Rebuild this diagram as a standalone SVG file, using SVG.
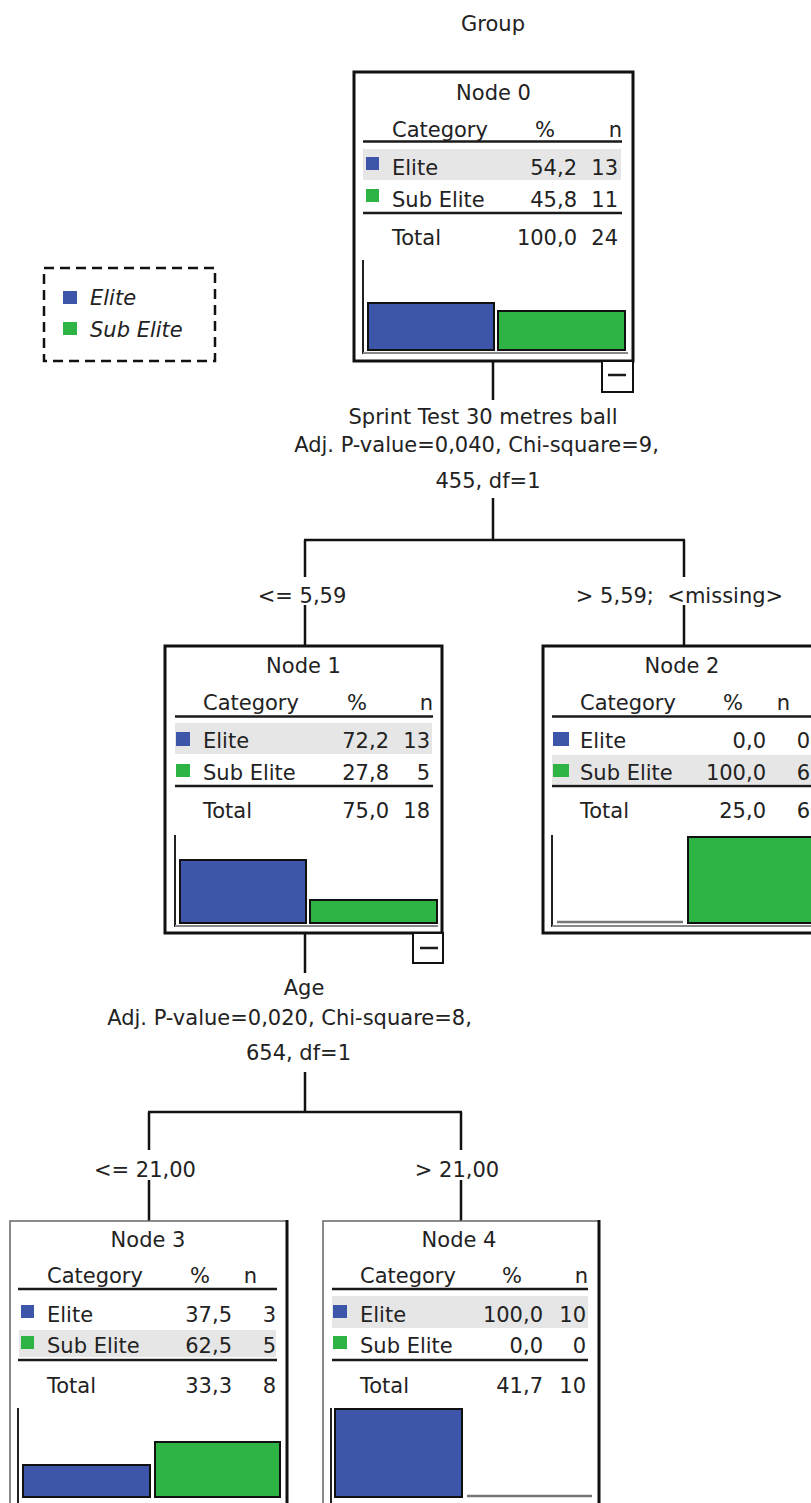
<svg xmlns="http://www.w3.org/2000/svg" width="811" height="1503" viewBox="0 0 811 1503">
<style>
.t{font-family:"DejaVu Sans","Liberation Sans",sans-serif;font-size:21px;fill:#222}
.m{text-anchor:middle}
.e{text-anchor:end}
.i{font-style:italic}
.frame{fill:#fff;stroke:#111;stroke-width:3}
.frame2{fill:#fff;stroke:#666;stroke-width:1.5}
.edge{stroke:#111;stroke-width:3}
.rule{stroke:#1a1a1a;stroke-width:2.5}
.hl{fill:#e6e6e6}
.blue{fill:#3e56aa}
.green{fill:#2eb345}
.bar{stroke:#111;stroke-width:2}
.axis{stroke:#222;stroke-width:2}
.base{stroke:#888;stroke-width:2}
.flat{stroke:#777;stroke-width:2.5}
.minus{fill:#fff;stroke:#111;stroke-width:2}
.conn line{stroke:#111;stroke-width:2.5}
</style>

<text class="t m" x="493" y="31">Group</text>

<g id="legend">
<rect x="44" y="268" width="171" height="93" fill="none" stroke="#111" stroke-width="2.5" stroke-dasharray="10 6"/>
<rect class="blue" x="63" y="291" width="14" height="13"/>
<text class="t i" x="90" y="305">Elite</text>
<rect class="green" x="63" y="322" width="14" height="13"/>
<text class="t i" x="90" y="337">Sub Elite</text>
</g>

<g id="connectors" class="conn">
<line x1="493" y1="362" x2="493" y2="400"/>
<line x1="493" y1="498" x2="493" y2="540"/>
<line x1="304" y1="540" x2="685" y2="540"/>
<line x1="305" y1="540" x2="305" y2="577"/>
<line x1="305" y1="605" x2="305" y2="646"/>
<line x1="684" y1="540" x2="684" y2="577"/>
<line x1="684" y1="605" x2="684" y2="646"/>
<line x1="305" y1="933" x2="305" y2="973"/>
<line x1="305" y1="1072" x2="305" y2="1112"/>
<line x1="148" y1="1112" x2="462" y2="1112"/>
<line x1="149" y1="1112" x2="149" y2="1150"/>
<line x1="149" y1="1180" x2="149" y2="1221"/>
<line x1="461" y1="1112" x2="461" y2="1150"/>
<line x1="461" y1="1180" x2="461" y2="1221"/>
</g>

<g id="labels">
<text class="t m" x="483" y="424">Sprint Test 30 metres ball</text>
<text class="t m" x="476.5" y="452">Adj. P-value=0,040, Chi-square=9,</text>
<text class="t m" x="488" y="488">455, df=1</text>
<text class="t m" x="302" y="603">&lt;= 5,59</text>
<text class="t m" x="679.5" y="603" style="white-space:pre">&gt; 5,59;  &lt;missing&gt;</text>
<text class="t m" x="304" y="995">Age</text>
<text class="t m" x="289.5" y="1025">Adj. P-value=0,020, Chi-square=8,</text>
<text class="t m" x="298.5" y="1060">654, df=1</text>
<text class="t m" x="145" y="1177">&lt;= 21,00</text>
<text class="t m" x="457" y="1177">&gt; 21,00</text>
</g>

<g id="node0" transform="translate(354,72)">
<rect class="frame" x="0" y="0" width="279" height="289"/>
<text class="t m" x="139.5" y="28">Node 0</text>
<text class="t" x="38" y="65">Category</text>
<text class="t e" x="201" y="65">%</text>
<text class="t e" x="268" y="65">n</text>
<line class="rule" x1="9" y1="69.5" x2="268" y2="69.5"/>
<rect class="hl" x="9" y="77" width="258" height="31"/>
<rect class="blue" x="12" y="85" width="13" height="13"/>
<text class="t" x="38" y="103">Elite</text>
<text class="t e" x="223" y="103">54,2</text>
<text class="t e" x="264" y="103">13</text>
<rect class="green" x="12" y="117" width="13" height="13"/>
<text class="t" x="38" y="135">Sub Elite</text>
<text class="t e" x="223" y="135">45,8</text>
<text class="t e" x="264" y="135">11</text>
<line class="rule" x1="9" y1="141" x2="268" y2="141"/>
<text class="t" x="38" y="173">Total</text>
<text class="t e" x="223" y="173">100,0</text>
<text class="t e" x="264" y="173">24</text>
<line class="axis" x1="9" y1="188" x2="9" y2="282"/>
<line class="base" x1="9" y1="281" x2="274" y2="281"/>
<rect class="blue bar" x="14" y="231" width="126" height="47"/>
<rect class="green bar" x="144" y="239" width="127" height="39"/>
<rect class="minus" x="248" y="289" width="31" height="31"/>
<line class="rule" x1="254" y1="303" x2="272" y2="303"/>
</g>

<g id="node1" transform="translate(165,646)">
<rect class="frame" x="0" y="0" width="277" height="287"/>
<text class="t m" x="138.5" y="27">Node 1</text>
<text class="t" x="38" y="64">Category</text>
<text class="t e" x="202" y="64">%</text>
<text class="t e" x="268" y="64">n</text>
<line class="rule" x1="10" y1="70.5" x2="268" y2="70.5"/>
<rect class="hl" x="10" y="77" width="257" height="31"/>
<rect class="blue" x="11" y="86" width="14" height="14"/>
<text class="t" x="38" y="102">Elite</text>
<text class="t e" x="224" y="102">72,2</text>
<text class="t e" x="265" y="102">13</text>
<rect class="green" x="11" y="118" width="14" height="13"/>
<text class="t" x="38" y="134">Sub Elite</text>
<text class="t e" x="224" y="134">27,8</text>
<text class="t e" x="265" y="134">5</text>
<line class="rule" x1="10" y1="140" x2="268" y2="140"/>
<text class="t" x="38" y="172">Total</text>
<text class="t e" x="224" y="172">75,0</text>
<text class="t e" x="265" y="172">18</text>
<line class="axis" x1="10" y1="189" x2="10" y2="281"/>
<line class="base" x1="10" y1="280" x2="273" y2="280"/>
<rect class="blue bar" x="15" y="214" width="126" height="63"/>
<rect class="green bar" x="145" y="254" width="127" height="23"/>
<rect class="minus" x="248" y="287" width="30" height="30"/>
<line class="rule" x1="255" y1="302" x2="273" y2="302"/>
</g>

<g id="node2" transform="translate(543,646)">
<rect class="frame" x="0" y="0" width="278" height="287"/>
<text class="t m" x="139" y="27">Node 2</text>
<text class="t" x="37" y="64">Category</text>
<text class="t e" x="200" y="64">%</text>
<text class="t e" x="247" y="64">n</text>
<line class="rule" x1="9" y1="70.5" x2="278" y2="70.5"/>
<rect class="blue" x="10" y="86" width="16" height="14"/>
<text class="t" x="37" y="102">Elite</text>
<text class="t e" x="223" y="102">0,0</text>
<text class="t e" x="267" y="102">0</text>
<rect class="hl" x="9" y="109" width="269" height="29"/>
<rect class="green" x="10" y="118" width="16" height="13"/>
<text class="t" x="37" y="134">Sub Elite</text>
<text class="t e" x="223" y="134">100,0</text>
<text class="t e" x="267" y="134">6</text>
<line class="rule" x1="9" y1="140" x2="278" y2="140"/>
<text class="t" x="37" y="172">Total</text>
<text class="t e" x="223" y="172">25,0</text>
<text class="t e" x="267" y="172">6</text>
<line class="axis" x1="9" y1="189" x2="9" y2="281"/>
<line class="base" x1="9" y1="280" x2="278" y2="280"/>
<line class="flat" x1="14" y1="276" x2="140" y2="276"/>
<rect class="green bar" x="145" y="191" width="132" height="86"/>
</g>

<g id="node3" transform="translate(10,1220)">
<rect class="frame2" x="0" y="1" width="277" height="300"/>
<line class="edge" x1="277" y1="0" x2="277" y2="290"/>
<text class="t m" x="138" y="27">Node 3</text>
<text class="t" x="37" y="63">Category</text>
<text class="t e" x="200" y="63">%</text>
<text class="t e" x="247" y="63">n</text>
<line class="rule" x1="8" y1="69" x2="267" y2="69"/>
<rect class="blue" x="11" y="85" width="13" height="13"/>
<text class="t" x="37" y="102">Elite</text>
<text class="t e" x="222" y="102">37,5</text>
<text class="t e" x="266" y="102">3</text>
<rect class="hl" x="9" y="110" width="257" height="27"/>
<rect class="green" x="11" y="116" width="13" height="13"/>
<text class="t" x="37" y="133">Sub Elite</text>
<text class="t e" x="222" y="133">62,5</text>
<text class="t e" x="266" y="133">5</text>
<line class="rule" x1="8" y1="140" x2="267" y2="140"/>
<text class="t" x="37" y="173">Total</text>
<text class="t e" x="222" y="173">33,3</text>
<text class="t e" x="266" y="173">8</text>
<line class="axis" x1="8" y1="188" x2="8" y2="290"/>
<rect class="blue bar" x="13" y="245" width="127" height="32"/>
<rect class="green bar" x="145" y="222" width="125" height="55"/>
</g>

<g id="node4" transform="translate(323,1220)">
<rect class="frame2" x="0" y="1" width="276" height="300"/>
<line class="edge" x1="276" y1="0" x2="276" y2="290"/>
<text class="t m" x="136" y="27">Node 4</text>
<text class="t" x="37" y="63">Category</text>
<text class="t e" x="199" y="63">%</text>
<text class="t e" x="265" y="63">n</text>
<line class="rule" x1="9" y1="69" x2="265" y2="69"/>
<rect class="hl" x="9" y="76" width="256" height="32"/>
<rect class="blue" x="10" y="85" width="14" height="13"/>
<text class="t" x="37" y="102">Elite</text>
<text class="t e" x="220" y="102">100,0</text>
<text class="t e" x="263" y="102">10</text>
<rect class="green" x="10" y="116" width="14" height="13"/>
<text class="t" x="37" y="133">Sub Elite</text>
<text class="t e" x="220" y="133">0,0</text>
<text class="t e" x="263" y="133">0</text>
<line class="rule" x1="9" y1="140" x2="265" y2="140"/>
<text class="t" x="37" y="173">Total</text>
<text class="t e" x="220" y="173">41,7</text>
<text class="t e" x="263" y="173">10</text>
<line class="axis" x1="8" y1="188" x2="8" y2="290"/>
<rect class="blue bar" x="12" y="189" width="127" height="88"/>
<line class="flat" x1="144" y1="276" x2="269" y2="276"/>
</g>
</svg>
